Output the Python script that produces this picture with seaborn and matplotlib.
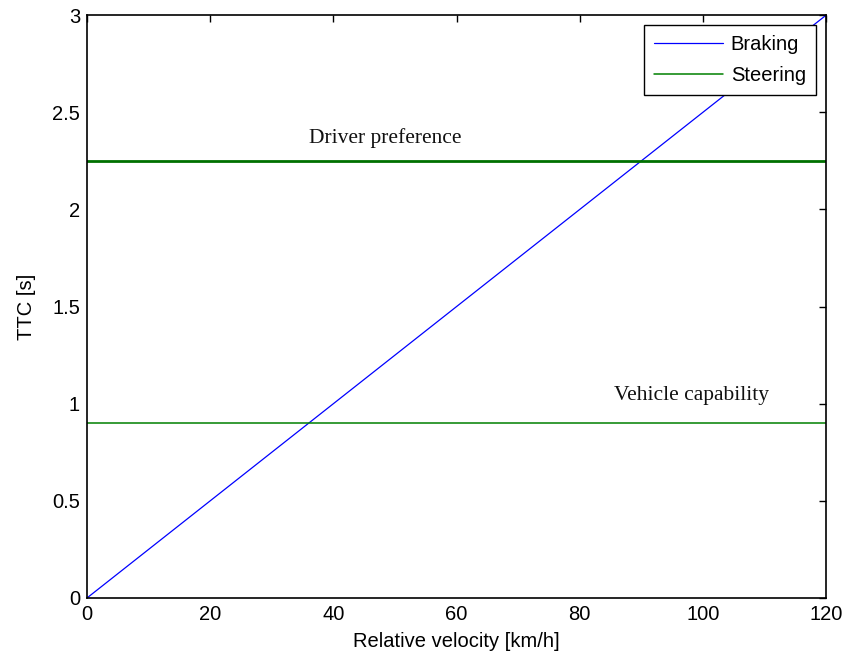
import numpy as np
import pandas as pd
import matplotlib
matplotlib.use("Agg")
import matplotlib.pyplot as plt
import seaborn as sns

# ==================== 数据 ====================
velocity = [0, 120]          # km/h
ttc_braking = [0, 3.0]       # s
driver_pref = 2.25           # s
vehicle_cap = 0.9            # s
x_ticks = [0, 20, 40, 60, 80, 100, 120]
y_ticks = [0, 0.5, 1, 1.5, 2, 2.5, 3]

# ==================== 样式 ====================
sns.set_style("white")
plt.rcParams['font.family'] = ['Liberation Sans', 'DejaVu Sans']
plt.rcParams['text.color'] = 'black'
plt.rcParams['axes.labelcolor'] = 'black'

fig = plt.figure(figsize=(8.49, 6.6), dpi=100)
ax = fig.add_axes([0.1025, 0.094, 0.8705, 0.883])

df = pd.DataFrame({'v': velocity, 'ttc': ttc_braking})
sns.lineplot(data=df, x='v', y='ttc', ax=ax, color='#0000ff', linewidth=0.9, label='Braking')
ax.axhline(vehicle_cap, color='#008000', linewidth=1.1, label='Steering')
ax.axhline(driver_pref, color='#007000', linewidth=2.0)

serif = ['Liberation Serif', 'DejaVu Serif']
ax.text(48.5, 2.37, 'Driver preference', family=serif,
        fontsize=15.5, ha='center', va='center', color='#111111')
ax.text(98.2, 1.04, 'Vehicle capability', family=serif,
        fontsize=15.5, ha='center', va='center', color='#111111')

ax.set_xlim(0, 120)
ax.set_ylim(0, 3)
ax.set_xticks(x_ticks)
ax.set_yticks(y_ticks)
ax.set_yticklabels(['0', '0.5', '1', '1.5', '2', '2.5', '3'])
ax.tick_params(direction='in', top=True, right=True, length=5, width=1,
               labelsize=14.5, colors='black', pad=5)
ax.set_xlabel('Relative velocity [km/h]', fontsize=14.5, labelpad=6)
ax.set_ylabel('TTC [s]', fontsize=14.5, labelpad=12)
for s in ax.spines.values():
    s.set_color('black')
    s.set_linewidth(1.2)

leg = ax.legend(loc='upper right', fontsize=14.5, frameon=True, fancybox=False,
                edgecolor='black', framealpha=1.0, borderaxespad=0.5, handlelength=3.4,
                borderpad=0.5, labelspacing=0.6, handletextpad=0.4)
leg.get_frame().set_linewidth(1.0)

plt.savefig('out.png', dpi=100)
